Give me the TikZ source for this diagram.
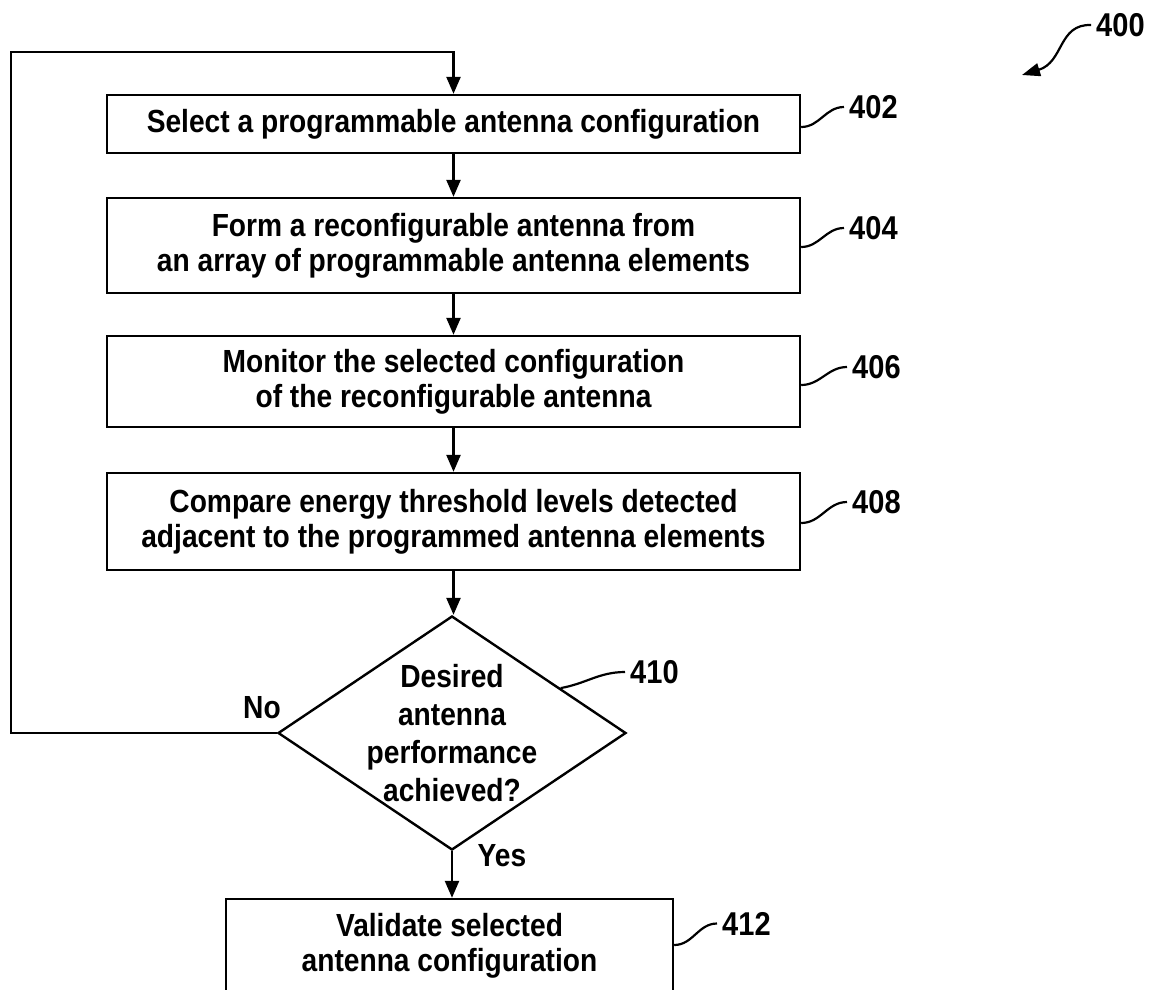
\documentclass[tikz,border=0pt]{standalone}
\usepackage{fontspec}
\setmainfont{Liberation Sans}[FakeStretch=0.88]
\usetikzlibrary{shapes.geometric,arrows.meta,calc}
\begin{document}
\begin{tikzpicture}[x=1pt,y=-1pt,
  every node/.style={font=\bfseries\fontsize{32}{35}\selectfont},
  box/.style={draw, line width=2.4pt, rectangle, inner sep=0pt, align=center, minimum width=693pt},
  arr/.style={line width=2.4pt, -{Triangle[length=17pt,width=14pt]}},
  lead/.style={line width=2.2pt},
  lbl/.style={anchor=west, font=\bfseries\fontsize{33}{33}\selectfont, inner sep=0pt}]
\useasboundingbox (0,0) rectangle (1154,989);

% process boxes
\node[box, minimum height=58pt] (b402) at (453.5,124) {Select a programmable antenna configuration};
\node[box, minimum height=95pt] (b404) at (453.5,245.5) {Form a reconfigurable antenna from\\an array of programmable antenna elements};
\node[box, minimum height=91pt] (b406) at (453.5,381.5) {Monitor the selected configuration\\of the reconfigurable antenna};
\node[box, minimum height=97pt] (b408) at (453.5,521.5) {Compare energy threshold levels detected\\adjacent to the programmed antenna elements};
\node[draw, diamond, line width=2.4pt, minimum width=348pt, minimum height=234pt, inner sep=0pt] (d410) at (452,733) {};
\node[align=center, font=\bfseries\fontsize{32}{38}\selectfont] (t410) at (452,733) {Desired\\antenna\\performance\\achieved?};
\node[box, minimum width=447pt, minimum height=93pt] (b412) at (449.5,945.5) {Validate selected\\antenna configuration};

% reference labels
\node[lbl] (l402) at (849,107) {402};
\node[lbl] (l404) at (849,228) {404};
\node[lbl] (l406) at (852,367) {406};
\node[lbl] (l408) at (852,502) {408};
\node[lbl] (l410) at (630,672) {410};
\node[lbl] (l412) at (722,923.5) {412};
\node[lbl] (l400) at (1096,25) {400};

\draw[lead] (b402.east |- 0,127) to[out=0,in=180] ([xshift=-5pt]l402.west);
\draw[lead] (b404.east |- 0,247) to[out=0,in=180] ([xshift=-5pt]l404.west);
\draw[lead] (b406.east |- 0,385) to[out=0,in=180] ([xshift=-5pt]l406.west);
\draw[lead] (b408.east |- 0,523) to[out=0,in=180] ([xshift=-5pt]l408.west);
\draw[lead] ($(d410.north)!0.62!(d410.east)$) to[out=10,in=180] ([xshift=-5pt]l410.west);
\draw[lead] (b412.east |- 0,945) to[out=0,in=180] ([xshift=-5pt]l412.west);
\coordinate (t400) at (1022,75);
\draw[lead, -{Triangle[length=18pt,width=13pt]}] ([xshift=-5pt]l400.west) .. controls (1058,24) and (1064,62) .. (t400);

% branch labels
\node (no) at (262,708) {No};
\node (yes) at (502,856) {Yes};

% connectors
\draw[arr] (b402.south) -- (b404.north);
\draw[arr] (b404.south) -- (b406.north);
\draw[arr] (b406.south) -- (b408.north);
\draw[arr] (b408.south) -- (b408.south |- d410.north);
\draw[arr] (d410.south) -- (d410.south |- b412.north);
\coordinate (lp) at (11,52);
\draw[arr] (d410.west) -| (lp) -| (b402.north);
\end{tikzpicture}
\end{document}
